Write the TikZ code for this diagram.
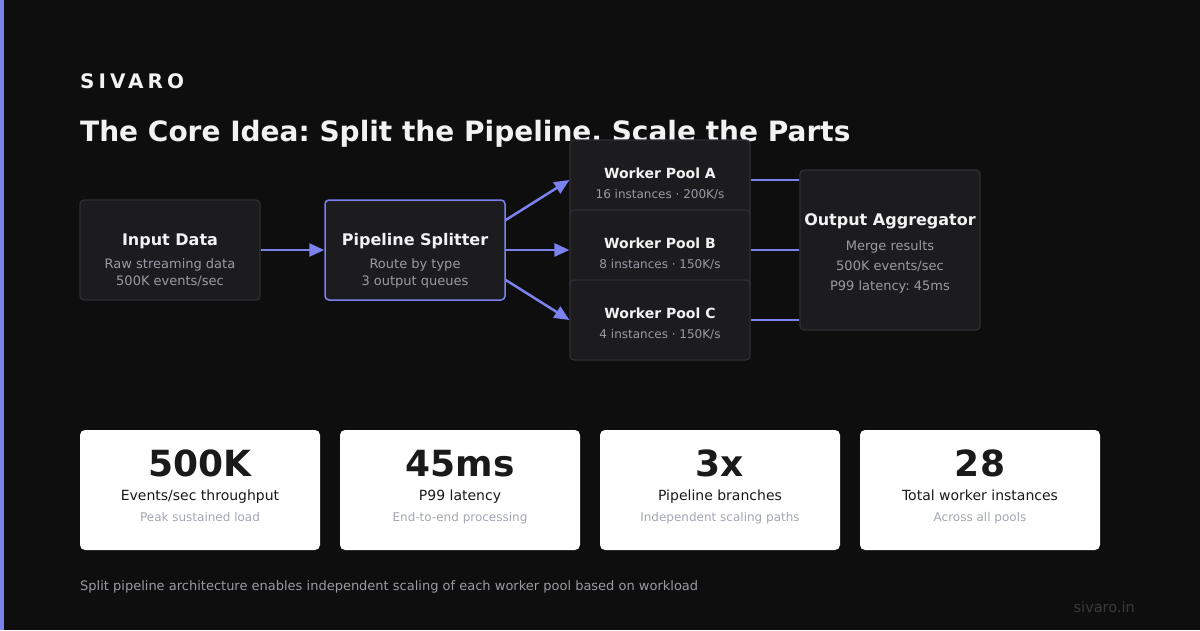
\documentclass[tikz,border=0pt]{standalone}
\usepackage{fontspec}
\setmainfont{DejaVu Sans}
\newfontfamily\brandfont[LetterSpace=20]{DejaVu Sans}
\usetikzlibrary{positioning, arrows.meta}
\frenchspacing
\definecolor{bg}{HTML}{0E0E0E}
\definecolor{accent}{HTML}{7B82EE}
\definecolor{boxfill}{HTML}{1C1C1F}
\definecolor{boxline}{HTML}{2F2F33}
\definecolor{subgray}{HTML}{9A9AA2}
\definecolor{titlewhite}{HTML}{F2F2F2}
\definecolor{cardgray}{HTML}{A3A7B2}
\definecolor{darktext}{HTML}{1A1A1A}
\definecolor{faint}{HTML}{3A3A3E}
\tikzstyle{stage}=[rectangle, rounded corners=4pt, fill=boxfill, draw=boxline, line width=1.2pt, minimum width=180pt, minimum height=100pt, inner sep=0pt]
\tikzstyle{splitbox}=[stage, draw=accent, line width=1.5pt]
\tikzstyle{pool}=[stage, minimum height=80pt]
\tikzstyle{aggbox}=[stage, minimum height=160pt]
\tikzstyle{stagetitle}=[anchor=base, inner sep=0pt, text=titlewhite, font=\fontsize{16}{19}\selectfont\bfseries]
\tikzstyle{pooltitle}=[stagetitle, font=\fontsize{14}{17}\selectfont\bfseries]
\tikzstyle{stagesub}=[anchor=base, inner sep=0pt, text=subgray, font=\fontsize{13}{16}\selectfont]
\tikzstyle{poolsub}=[stagesub, font=\fontsize{12}{14}\selectfont]
\tikzstyle{feed}=[draw=accent, line width=2.5pt, -{Triangle[length=15pt,width=13pt]}]
\tikzstyle{link}=[draw=accent, line width=2.5pt]
\tikzstyle{card}=[rectangle, rounded corners=5pt, fill=white, minimum width=240pt, minimum height=120pt, inner sep=0pt]
\tikzstyle{bignum}=[anchor=base, inner sep=0pt, text=darktext, font=\fontsize{36}{43}\selectfont\bfseries]
\tikzstyle{cardlabel}=[anchor=base, inner sep=0pt, text=darktext, font=\fontsize{14}{17}\selectfont]
\tikzstyle{cardnote}=[anchor=base, inner sep=0pt, text=cardgray, font=\fontsize{12}{14}\selectfont]

\begin{document}
\begin{tikzpicture}[x=1pt, y=-1pt]
    % page
    \fill[bg] (0,0) rectangle (1200,630);
    \useasboundingbox (0,0) rectangle (1200,630);
    \fill[accent] (0,0) rectangle (4,630);

    % heading
    \node[anchor=base west, inner sep=0pt, text=titlewhite, font=\fontsize{20}{24}\brandfont\bfseries] (brand) at (80,88) {SIVARO};
    \node[anchor=base west, inner sep=0pt, text=titlewhite, font=\fontsize{28}{34}\selectfont\bfseries] (title) at (80,141) {The Core Idea: Split the Pipeline. Scale the Parts};

    % pipeline stages
    \node[stage] (input) at (170,250) {};
    \node[stagetitle] (input-t) at (170,245) {Input Data};
    \node[stagesub] (input-s1) at (170,268) {Raw streaming data};
    \node[stagesub] (input-s2) at (170,285) {500K events/sec};

    \node[splitbox] (splitter) at (415,250) {};
    \node[stagetitle] (splitter-t) at (415,245) {Pipeline Splitter};
    \node[stagesub] (splitter-s1) at (415,268) {Route by type};
    \node[stagesub] (splitter-s2) at (415,285) {3 output queues};

    \node[pool] (poolA) at (660,180) {};
    \node[pooltitle] (poolA-t) at (660,178) {Worker Pool A};
    \node[poolsub] (poolA-s) at (660,198) {16 instances · 200K/s};

    \node[pool] (poolB) at (660,250) {};
    \node[pooltitle] (poolB-t) at (660,248) {Worker Pool B};
    \node[poolsub] (poolB-s) at (660,268) {8 instances · 150K/s};

    \node[pool] (poolC) at (660,320) {};
    \node[pooltitle] (poolC-t) at (660,318) {Worker Pool C};
    \node[poolsub] (poolC-s) at (660,338) {4 instances · 150K/s};

    \node[aggbox] (agg) at (890,250) {};
    \node[stagetitle] (agg-t) at (890,225) {Output Aggregator};
    \node[stagesub] (agg-s1) at (890,250) {Merge results};
    \node[stagesub] (agg-s2) at (890,270) {500K events/sec};
    \node[stagesub] (agg-s3) at (890,290) {P99 latency: 45ms};

    % connectors
    \draw[feed] (input.east) -- (splitter.west);
    \draw[feed] ([yshift=30pt]splitter.east) -- (poolA.west);
    \draw[feed] (splitter.east) -- (poolB.west);
    \draw[feed] ([yshift=-30pt]splitter.east) -- (poolC.west);
    \draw[link] (poolA.east) -- (poolA.east -| agg.west);
    \draw[link] (poolB.east) -- (poolB.east -| agg.west);
    \draw[link] (poolC.east) -- (poolC.east -| agg.west);

    % stat cards
    \foreach \x/\num/\lab/\note [count=\i] in {200/500K/Events\slash sec throughput/Peak sustained load,
        460/45ms/P99 latency/End-to-end processing,
        720/3x/Pipeline branches/Independent scaling paths,
        980/28/Total worker instances/Across all pools}{
        \node[card] (card\i) at (\x,490) {};
        \node[bignum] (card\i-n) at (\x,476) {\num};
        \node[cardlabel] (card\i-l) at (\x,500) {\lab};
        \node[cardnote] (card\i-s) at (\x,521) {\note};
    }

    % footer
    \node[anchor=base west, inner sep=0pt, text=subgray, font=\fontsize{13}{16}\selectfont] (footer) at (80,590) {Split pipeline architecture enables independent scaling of each worker pool based on workload};
    \node[anchor=base east, inner sep=0pt, text=faint, font=\fontsize{14.5}{17}\selectfont] (site) at (1135,612) {sivaro.in};
\end{tikzpicture}
\end{document}
